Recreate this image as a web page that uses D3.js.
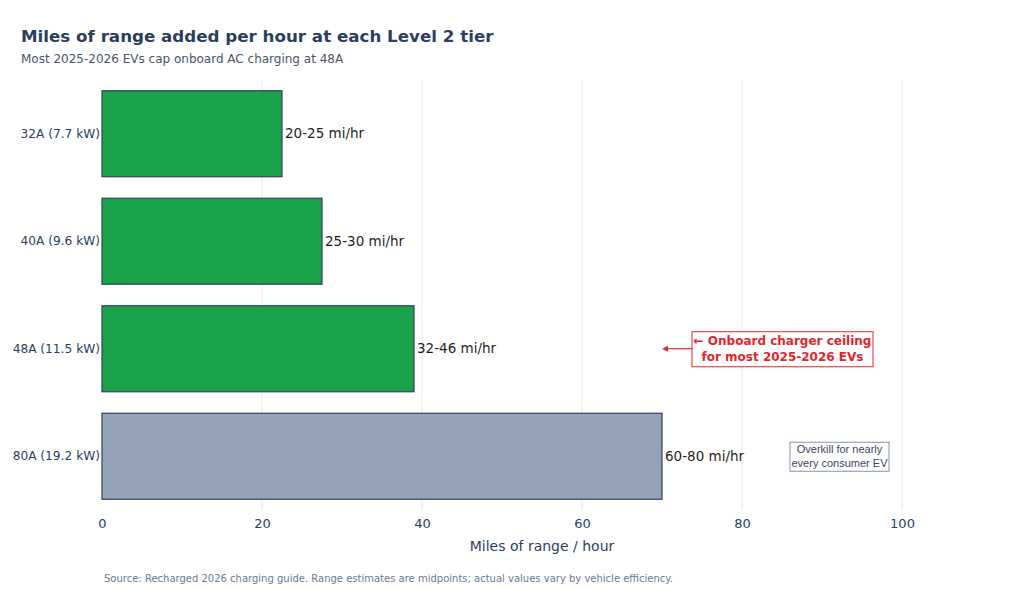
<!DOCTYPE html>
<html>
<head>
<meta charset="utf-8">
<script src="https://cdn.jsdelivr.net/npm/d3@7"></script>
<style>
  body { margin: 0; background: #fff; }
  text { font-family: Verdana, "DejaVu Sans", sans-serif; }
</style>
</head>
<body>
<script>
const width = 1024;
const height = 590;

const tiers = ['32A (7.7 kW)', '40A (9.6 kW)', '48A (11.5 kW)', '80A (19.2 kW)'];
const midpoints = [22.5, 27.5, 39, 70];
const rangeLabels = ['20-25 mi/hr', '25-30 mi/hr', '32-46 mi/hr', '60-80 mi/hr'];
const barColors = ['#1aa34a', '#1aa34a', '#1aa34a', '#94a3b8'];
const xTicks = [0, 20, 40, 60, 80, 100];

const margin = {top: 80, right: 82, bottom: 80, left: 102};

const svg = d3.select('body')
              .append('svg')
              .attr('width', width)
              .attr('height', height);

const x = d3.scaleLinear()
            .domain([0, 105])
            .range([margin.left, margin.left + 8 * 105]);

const y = d3.scaleBand()
            .domain(tiers)
            .range([margin.top, height - margin.bottom])
            .paddingInner(0.2)
            .paddingOuter(0.1);

// gridlines
svg.append('g')
    .selectAll('line')
    .data(xTicks.filter(d => d > 0))
    .join('line')
        .attr('x1', d => x(d))
        .attr('x2', d => x(d))
        .attr('y1', margin.top)
        .attr('y2', height - margin.bottom)
        .attr('stroke', '#e6e8ec')
        .attr('stroke-width', 1)

// x axis
const xAxis = svg.append('g')
    .attr('transform', `translate(0,${height - margin.bottom})`)
    .call(d3.axisBottom(x).tickValues(xTicks).tickSize(0).tickPadding(9))
xAxis.select('.domain').remove()
xAxis.selectAll('text')
    .attr('font-size', 13)
    .attr('fill', '#2a3f5f')

// y axis
const yAxis = svg.append('g')
    .attr('transform', `translate(${margin.left},0)`)
    .call(d3.axisLeft(y).tickSize(0).tickPadding(2))
yAxis.select('.domain').remove()
yAxis.selectAll('text')
    .attr('font-size', 12.2)
    .attr('fill', '#2a3f5f')

// bars
svg.append('g')
    .selectAll('rect')
    .data(tiers)
    .join('rect')
        .attr('x', x(0))
        .attr('y', d => y(d))
        .attr('width', (d, i) => x(midpoints[i]) - x(0))
        .attr('height', y.bandwidth())
        .attr('fill', (d, i) => barColors[i])
        .attr('stroke', '#334155')
        .attr('stroke-width', 1.2)

// value labels
svg.append('g')
    .selectAll('text')
    .data(tiers)
    .join('text')
        .attr('x', (d, i) => x(midpoints[i]) + 3)
        .attr('y', d => y(d) + y.bandwidth() / 2)
        .attr('dy', '0.35em')
        .attr('font-size', 13.5)
        .attr('fill', '#1f1f1f')
        .text((d, i) => rangeLabels[i])

// titles
svg.append('text')
    .attr('x', 21).attr('y', 42)
    .attr('font-size', 16.7).attr('font-weight', 'bold')
    .attr('fill', '#2a3f5f')
    .text('Miles of range added per hour at each Level 2 tier')

svg.append('text')
    .attr('x', 21).attr('y', 63)
    .attr('font-size', 12)
    .attr('fill', '#4a5568')
    .text('Most 2025-2026 EVs cap onboard AC charging at 48A')

svg.append('text')
    .attr('x', x(55)).attr('y', 551)
    .attr('text-anchor', 'middle')
    .attr('font-size', 14)
    .attr('fill', '#2a3f5f')
    .text('Miles of range / hour')

svg.append('text')
    .attr('x', 104).attr('y', 582)
    .attr('font-size', 10)
    .attr('fill', '#6b7a99')
    .text('Source: Recharged 2026 charging guide. Range estimates are midpoints; actual values vary by vehicle efficiency.')

// annotation: onboard charger ceiling
const ceilY = y('48A (11.5 kW)') + y.bandwidth() / 2;
const ann = svg.append('g')
ann.append('rect')
    .attr('x', 692).attr('y', ceilY - 17)
    .attr('width', 181).attr('height', 35)
    .attr('fill', '#fff')
    .attr('stroke', '#e3262d')
    .attr('stroke-width', 1)
ann.append('line')
    .attr('x1', 692).attr('x2', x(70) + 4)
    .attr('y1', ceilY).attr('y2', ceilY)
    .attr('stroke', '#e3262d').attr('stroke-width', 1.2)
ann.append('path')
    .attr('d', `M${x(70)},${ceilY} l6,-3 l0,6 z`)
    .attr('fill', '#e3262d')
ann.selectAll('text')
    .data(['\u2190 Onboard charger ceiling', 'for most 2025-2026 EVs'])
    .join('text')
        .attr('x', 782.5)
        .attr('y', (d, i) => ceilY - 4 + i * 16)
        .attr('text-anchor', 'middle')
        .attr('font-size', 12)
        .attr('font-weight', 'bold')
        .attr('fill', '#e3262d')
        .text(d => d)

// annotation: overkill
const okY = y('80A (19.2 kW)') + y.bandwidth() / 2;
const ok = svg.append('g')
ok.append('rect')
    .attr('x', 790).attr('y', okY - 14)
    .attr('width', 99).attr('height', 29)
    .attr('fill', '#fff')
    .attr('stroke', '#8392b0')
    .attr('stroke-width', 1)
ok.selectAll('text')
    .data(['Overkill for nearly', 'every consumer EV'])
    .join('text')
        .attr('x', 839.5)
        .attr('y', (d, i) => okY - 3 + i * 14)
        .attr('text-anchor', 'middle')
        .attr('font-size', 11)
        .attr('fill', '#3b4660')
        .style('font-family', 'Arial, "Liberation Sans", sans-serif')
        .text(d => d)
</script>
</body>
</html>
